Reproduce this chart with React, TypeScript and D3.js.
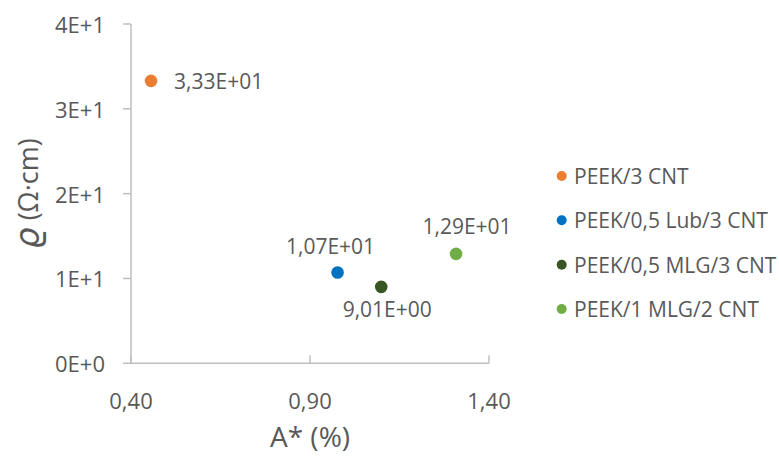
import React from "react";
import * as d3 from "d3";

const seriesNames = ["PEEK/3 CNT", "PEEK/0,5 Lub/3 CNT", "PEEK/0,5 MLG/3 CNT", "PEEK/1 MLG/2 CNT"];
const xValues = [0.456, 0.977, 1.099, 1.308];
const yValues = [33.3, 10.7, 9.01, 12.9];
const pointLabels = ["3,33E+01", "1,07E+01", "9,01E+00", "1,29E+01"];
const colors = ["#ED7D31", "#0070C0", "#375623", "#70AD47"];
const xTicks = [0.4, 0.9, 1.4];
const xTickLabels = ["0,40", "0,90", "1,40"];
const yTicks = [0, 10, 20, 30, 40];
const yTickLabels = ["0E+0", "1E+1", "2E+1", "3E+1", "4E+1"];

// label placement relative to point: [dx, dy, anchor]
const labelOffsets: [number, number, string][] = [
  [23, 0, "start"],
  [-7, -27, "middle"],
  [6, 22, "middle"],
  [11, -28, "middle"],
];

const W = 779;
const H = 456;
const FONT = "'Open Sans', 'Segoe UI', sans-serif";
const TXT = "#595959";
const AXIS = "#BFBFBF";

export default function App() {
  const x = d3.scaleLinear().domain([0.4, 1.4]).range([131, 489]);
  const y = d3.scaleLinear().domain([0, 40]).range([363.3, 24]);
  const legendY = d3.scalePoint<number>().domain([0, 1, 2, 3]).range([176, 309]);

  return (
    <svg width={W} height={H} style={{ position: "absolute", left: 0, top: 0, background: "#fff" }} fontFamily={FONT}>
      {/* axes */}
      <line x1={x(0.4)} x2={x(1.4)} y1={y(0)} y2={y(0)} stroke={AXIS} strokeWidth={1.5} />
      <line x1={x(0.4)} x2={x(0.4)} y1={y(0)} y2={y(40)} stroke={AXIS} strokeWidth={1.5} />
      {yTicks.map((t, i) => (
        <g key={"y" + i}>
          <line x1={x(0.4) - 8} x2={x(0.4)} y1={y(t)} y2={y(t)} stroke={AXIS} strokeWidth={1.5} />
          <text x={105} y={y(t)} textAnchor="end" dominantBaseline="central" fontSize={22} fill={TXT}>
            {yTickLabels[i]}
          </text>
        </g>
      ))}
      {xTicks.map((t, i) => (
        <g key={"x" + i}>
          <line x1={x(t)} x2={x(t)} y1={y(0) - 8} y2={y(0)} stroke={AXIS} strokeWidth={1.5} />
          <text x={x(t)} y={400} textAnchor="middle" dominantBaseline="central" fontSize={22} fill={TXT}>
            {xTickLabels[i]}
          </text>
        </g>
      ))}
      {/* axis titles */}
      <text x={310} y={436} textAnchor="middle" dominantBaseline="central" fontSize={28} fill={TXT}>
        A* (%)
      </text>
      <text
        transform={`translate(27,${(y(0) + y(40)) / 2}) rotate(-90)`}
        textAnchor="middle"
        dominantBaseline="central"
        fontSize={27}
        fill={TXT}
      >
        <tspan fontSize={34} fontStyle="italic" fontFamily="'DejaVu Sans', sans-serif">ϱ</tspan>
        <tspan> (Ω·cm)</tspan>
      </text>
      {/* points */}
      {xValues.map((v, i) => (
        <g key={"p" + i}>
          <circle cx={x(v)} cy={y(yValues[i])} r={6.3} fill={colors[i]} />
          <text
            x={x(v) + labelOffsets[i][0]}
            y={y(yValues[i]) + labelOffsets[i][1]}
            textAnchor={labelOffsets[i][2] as any}
            dominantBaseline="central"
            fontSize={21}
            fill={TXT}
          >
            {pointLabels[i]}
          </text>
        </g>
      ))}
      {/* legend */}
      {seriesNames.map((name, i) => (
        <g key={"l" + i}>
          <circle cx={561.7} cy={legendY(i)!} r={5} fill={colors[i]} />
          <text x={574} y={legendY(i)!} dominantBaseline="central" fontSize={21} fill={TXT}>
            {name}
          </text>
        </g>
      ))}
    </svg>
  );
}
